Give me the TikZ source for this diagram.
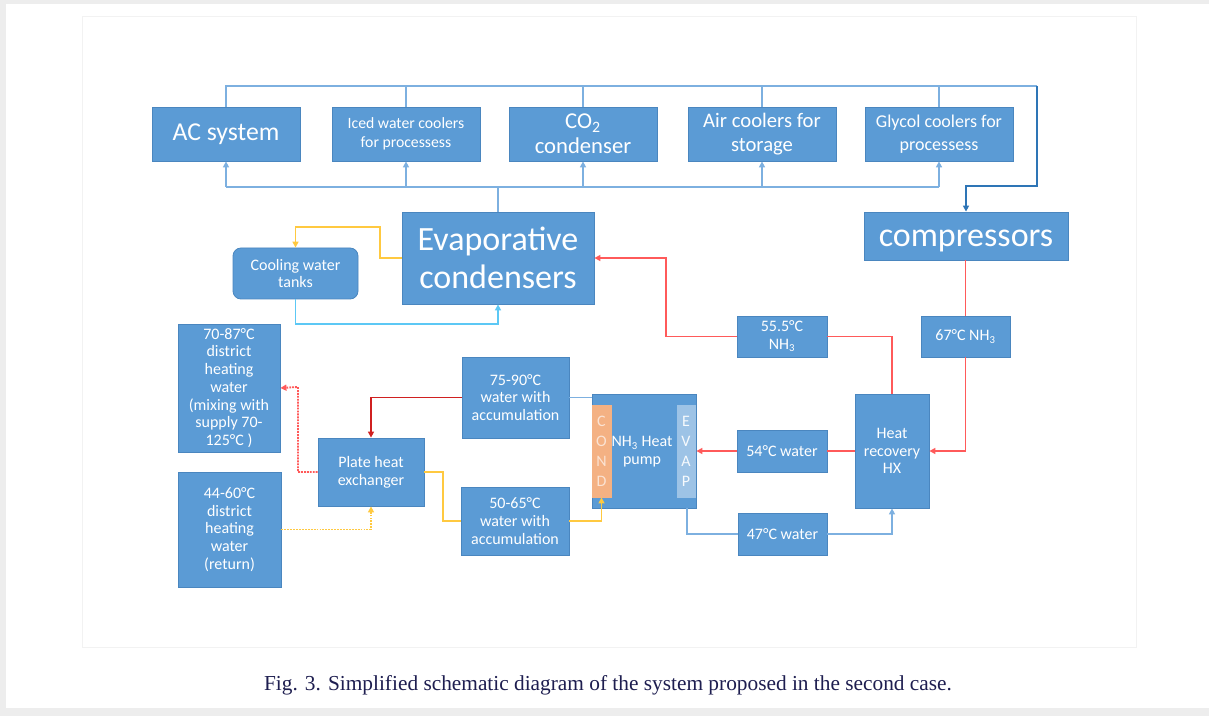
\documentclass[tikz,border=0pt]{standalone}
\usepackage{fontspec}
\setmainfont{Carlito}
\newfontfamily\capfont{Liberation Serif}
\usetikzlibrary{arrows.meta}
\definecolor{boxblue}{HTML}{5B9BD5}
\definecolor{boxedge}{HTML}{4A86BF}
\definecolor{lineblue}{HTML}{7DB0E0}
\definecolor{darkblue}{HTML}{2E75B6}
\definecolor{cyanline}{HTML}{5CC8F5}
\definecolor{redline}{HTML}{FF5A5A}
\definecolor{dredline}{HTML}{D02020}
\definecolor{yelline}{HTML}{FFC940}
\definecolor{condfill}{HTML}{F4B183}
\definecolor{condtext}{HTML}{FBE3D3}
\definecolor{evapfill}{HTML}{9DC3E6}
\definecolor{capcol}{HTML}{1E1E50}
\newcommand\fsz[2]{\fontsize{#1}{#2}\selectfont}
\newcommand\mybox[7]{\node[#6, minimum width={(#4-#2)*0.75pt}, minimum height={(#5-#3)*0.75pt}] (#1) at ({(#2+#4)/2},{(#3+#5)/2}) {#7};}
\tikzset{
  box/.style={draw=boxedge, fill=boxblue, text=white, inner sep=0pt, align=center, line width=0.6pt},
  small/.style={font=\fsz{12pt}{13.3pt}},
  conn/.style={line width=1.1pt, >={Triangle[length=4.5pt,width=4.5pt]}},
  tl/.style={conn, draw=lineblue},
  dbl/.style={conn, draw=darkblue},
  cy/.style={conn, draw=cyanline},
  rd/.style={conn, draw=redline},
  drd/.style={conn, draw=dredline},
  yl/.style={conn, draw=yelline},
  rdot/.style={conn, line width=1.4pt, draw=redline, dash pattern=on 1.4pt off 0.8pt},
  ydot/.style={conn, line width=1.4pt, draw=yelline, dash pattern=on 1.4pt off 0.8pt},
}
\begin{document}
\begin{tikzpicture}[x=0.75pt,y=-0.75pt]
\useasboundingbox (0,0) rectangle (1209,716);
\fill[black!7] (0,0) rectangle (1209,716);
\fill[white] (6,4) rectangle (1209,708);
\draw[black!5, line width=0.6pt] (82,16) rectangle (1136,647);

% top row
\mybox{ac}{152}{107}{300}{161}{box, font=\fsz{19.3pt}{22pt}}{AC system}
\mybox{iced}{332}{107}{480}{161}{box, font=\fsz{11.8pt}{14.5pt}}{Iced water coolers\\for processess}
\mybox{co2}{509}{107}{657}{161}{box, font=\fsz{17pt}{19pt}}{CO\textsubscript{2}\\condenser}
\mybox{air}{688}{107}{836}{161}{box, font=\fsz{15.5pt}{18pt}}{Air coolers for\\storage}
\mybox{gly}{865}{107}{1013}{161}{box, font=\fsz{13.5pt}{17pt}}{Glycol coolers for\\processess}

% middle
\mybox{evap}{402}{212}{594}{304}{box, font=\fsz{25.5pt}{29pt}}{Evaporative\\condensers}
\mybox{comp}{864}{212}{1068}{260}{box}{}
\node[text=white, inner sep=0pt, font=\fsz{25.5pt}{29pt}] (comptext) at (966,241) {compressors};
\mybox{tanks}{233}{248}{358}{299}{box, rounded corners=6pt, small}{Cooling water\\tanks}
\mybox{nhA}{737}{316}{827}{357}{box, small}{55.5°C\\NH\textsubscript{3}}
\mybox{nhB}{921}{316}{1010}{357}{box, small}{67°C NH\textsubscript{3}}

% bottom
\mybox{hx}{855}{394}{929}{508}{box, small}{Heat\\recovery\\HX}
\mybox{wA}{737}{430}{827}{472}{box, small}{54°C water}
\mybox{wB}{738}{513}{827}{555}{box, small}{47°C water}
\mybox{hp}{592}{394}{696}{508}{box}{}
\mybox{cond}{592}{405}{611}{497}{box, fill=condfill, draw=condfill, text=condtext, font=\fsz{12pt}{15pt}}{C\\O\\N\\D}
\mybox{evp}{677}{405}{695}{497}{box, fill=evapfill, draw=evapfill, text=white!92!evapfill, font=\fsz{12pt}{15pt}}{E\\V\\A\\P}
\node[text=white, align=center, small, inner sep=0pt] (hptext) at (642,452) {NH\textsubscript{3} Heat\\pump};
\mybox{wC}{462}{357}{569}{438}{box, small}{75-90°C\\water with\\accumulation}
\mybox{wD}{461}{487}{569}{555}{box, small}{50-65°C\\water with\\accumulation}
\mybox{phx}{318}{438}{424}{506}{box, small}{Plate heat\\exchanger}
\mybox{dhA}{178}{324}{280}{452}{box, small}{70-87°C\\district\\heating\\water\\(mixing with\\supply 70-\\125°C )}
\mybox{dhB}{178}{472}{281}{587}{box, small}{44-60°C\\district\\heating\\water\\(return)}

% top bus
\coordinate (topR) at (1037,86);
\coordinate (topD) at (1037,186);
\draw[tl] (ac.north) |- (topR);
\foreach \n in {iced,co2,air,gly} \draw[tl] (\n.north) -- (\n.north |- topR);
\draw[dbl,->] (topR) -- (topD) -| (comp.north);
% bottom bus
\coordinate (bb) at (498,187);
\draw[tl] (evap.north) -- (bb);
\draw[tl] (ac.south |- bb) -- (gly.south |- bb);
\foreach \n in {ac,iced,co2,air,gly} \draw[tl,->] (\n.south |- bb) -- (\n.south);

% cooling water
\draw[yl,->] (evap.west) -| (380,227) -| (tanks.north);
\coordinate (cyb) at (498,324);
\draw[cy,->] (tanks.south) |- (cyb) -- (evap.south);

% NH3 lines
\draw[rd,->] (nhA.west) -| (666,258) -- (evap.east);
\draw[rd] (nhA.east) -| (hx.north);
\draw[rd] (comp.south -| nhB.north) -- (nhB.north);
\draw[rd,->] (nhB.south) |- (hx.east);
\draw[rd] (hx.west) -- (wA.east);
\draw[rd,->] (wA.west) -- (hp.east |- wA.west);
\coordinate (hpb) at (687,508);
\draw[tl] (hpb) |- (wB.west);
\draw[tl,->] (wB.east) -| (hx.south);

% heat pump water side
\draw[tl] (wC.east) -- (hp.west |- wC.east);
\draw[drd,->] (wC.west) -| (phx.north);
\draw[yl] (phx.east) -| (443,521) -- (wD.west);
\draw[yl,->] (wD.east) -| (cond.south);
\draw[rdot,->] (phx.west) -| (298,387) -- (dhA.east);
\draw[ydot,->] (dhB.east) -| (phx.south);

% caption
\node[text=capcol, inner sep=0pt, font=\capfont\fsz{16pt}{18pt}] (cap) at (608,685) {Fig. 3. Simplified schematic diagram of the system proposed in the second case.};
\end{tikzpicture}
\end{document}
